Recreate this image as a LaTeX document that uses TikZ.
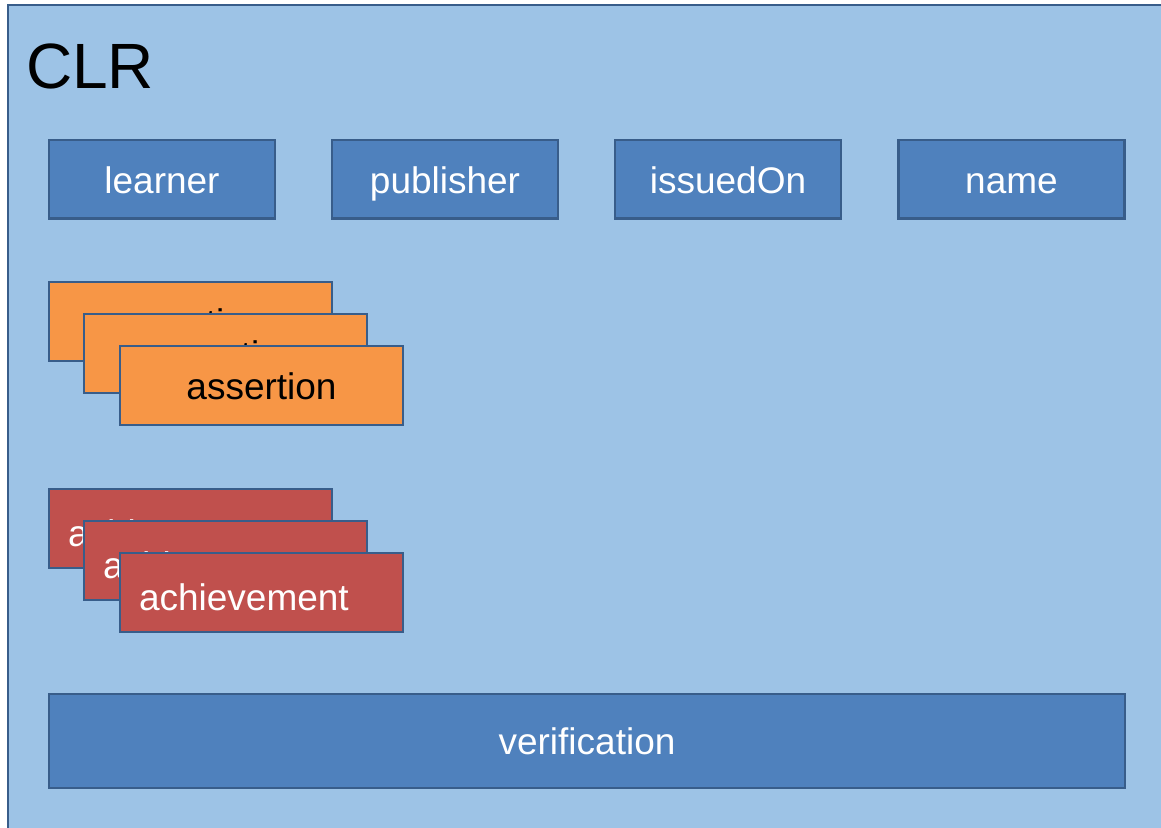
\documentclass[tikz,border=0pt]{standalone}
\usepackage{fontspec}
\setmainfont{Liberation Sans}
\definecolor{bgblue}{HTML}{9DC3E6}
\definecolor{boxblue}{HTML}{4F81BD}
\definecolor{edgeblue}{HTML}{385D8A}
\definecolor{orangebox}{HTML}{F79646}
\definecolor{redbox}{HTML}{C0504D}
\begin{document}
\begin{tikzpicture}[x=1pt,y=-1pt,
  field/.style={draw=edgeblue, line width=2.1pt, inner sep=0pt, outer sep=0pt,
    text height=27.5pt, text depth=0pt, font=\fontsize{37}{44}\selectfont},
  propbox/.style={field, fill=boxblue, text=white, minimum width=226pt, minimum height=78.5pt},
  assertbox/.style={field, fill=orangebox, text=black, minimum width=283pt, minimum height=79pt},
  achievebox/.style={field, fill=redbox, text=white, minimum width=283pt, minimum height=79pt,
    text width=245pt, inner xsep=19pt, align=left, text height=35pt},
  verbox/.style={field, fill=boxblue, text=white, minimum width=1076pt, minimum height=94pt}]
\useasboundingbox (0,0) rectangle (1161,827);
\fill[white] (0,0) rectangle (1161,827);
\draw[draw=edgeblue, fill=bgblue, line width=2pt] (7.5,5) rectangle (1175,845);
\node[anchor=base west, inner sep=0pt, font=\fontsize{64}{70}\selectfont] (clr) at (26,88) {CLR};
\node[propbox] (learner) at (162,179.25) {learner};
\node[propbox] (publisher) at (445,179.25) {publisher};
\node[propbox] (issued) at (728,179.25) {issuedOn};
\node[propbox] (name) at (1011.5,179.25) {name};
\node[assertbox] (as1) at (190.5,321.5) {assertion};
\node[assertbox] (as2) at (225.5,353.5) {assertion};
\node[assertbox] (as3) at (261.5,385.5) {assertion};
\node[achievebox] (ac1) at (190.5,528.5) {achievement};
\node[achievebox] (ac2) at (225.5,560.5) {achievement};
\node[achievebox] (ac3) at (261.5,592.5) {achievement};
\node[verbox] (ver) at (587,741) {verification};
\end{tikzpicture}
\end{document}
